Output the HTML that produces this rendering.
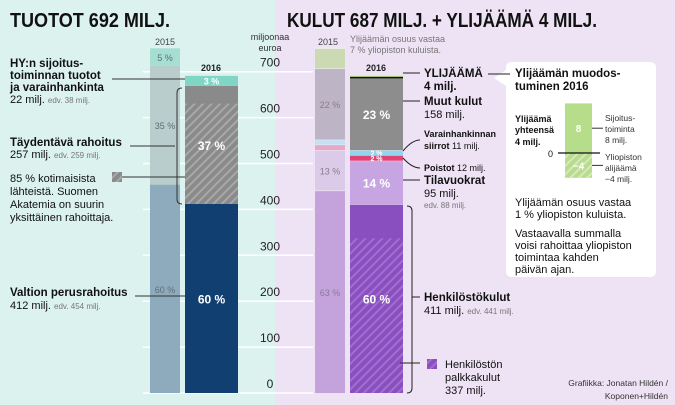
<!DOCTYPE html>
<html><head><meta charset="utf-8">
<style>
html,body{margin:0;padding:0;width:675px;height:405px;overflow:hidden;background:#ede3f4}
svg{display:block;font-family:"Liberation Sans",sans-serif}
.b{font-weight:bold}
</style></head>
<body>
<svg id="chart" width="675" height="405" viewBox="0 0 675 405" xmlns="http://www.w3.org/2000/svg">
<defs>
<pattern id="hatchGray" patternUnits="userSpaceOnUse" width="6" height="6" patternTransform="rotate(45)">
<rect width="6" height="6" fill="#8a8a8a"/><rect width="2" height="6" fill="#a8a8a8"/></pattern>
<pattern id="hatchPurple" patternUnits="userSpaceOnUse" width="6" height="6" patternTransform="rotate(45)">
<rect width="6" height="6" fill="#8a4fbf"/><rect width="2" height="6" fill="#a06fd0"/></pattern>
<pattern id="hatchGreen" patternUnits="userSpaceOnUse" width="6" height="6" patternTransform="rotate(45)">
<rect width="6" height="6" fill="#b8db8e"/><rect width="2" height="6" fill="#d4eab8"/></pattern>
</defs>
<rect x="0" y="0" width="275" height="405" fill="#dcf2ef"/>
<rect x="275" y="0" width="400" height="405" fill="#ede3f4"/>
<g id="grid"></g>
<g id="bars"></g>
<text x="10" y="27" font-size="20" class="b" textLength="160" lengthAdjust="spacingAndGlyphs" fill="#111">TUOTOT 692 MILJ.</text>
<text x="287" y="27" font-size="20" class="b" textLength="310" lengthAdjust="spacingAndGlyphs" fill="#111">KULUT  687 MILJ. + YLIJÄÄMÄ 4 MILJ.</text>
<text x="270" y="40" font-size="9" text-anchor="middle" fill="#333">miljoonaa</text>
<text x="270" y="51" font-size="9" text-anchor="middle" fill="#333">euroa</text>
<text x="165" y="45" font-size="9" text-anchor="middle" fill="#444">2015</text>
<text x="211" y="71" font-size="9" class="b" text-anchor="middle" fill="#222">2016</text>
<text x="328" y="45" font-size="9" text-anchor="middle" fill="#444">2015</text>
<text x="376" y="71" font-size="9" class="b" text-anchor="middle" fill="#222">2016</text>
<text font-size="9" fill="#777"><tspan x="350" y="42">Ylijäämän osuus vastaa</tspan><tspan x="350" y="53">7 % yliopiston kuluista.</tspan></text>

<g fill="#111" font-size="11">
<text class="b" font-size="11.5"><tspan x="10" y="67">HY:n sijoitus-</tspan><tspan x="10" y="79">toiminnan tuotot</tspan><tspan x="10" y="91">ja varainhankinta</tspan></text>
<text x="10" y="103">22 milj. <tspan font-size="8" fill="#777">edv. 38 milj.</tspan></text>
<line x1="112" y1="79" x2="185" y2="79" stroke="#333"/>
<text class="b" x="10" y="146" font-size="11.5">Täydentävä rahoitus</text>
<text x="10" y="158">257 milj. <tspan font-size="8" fill="#777">edv. 259 milj.</tspan></text>
<line x1="130" y1="146" x2="175" y2="146" stroke="#333"/>
<path d="M182 88 Q177 88 177 93 L177 199 Q177 204 182 204" fill="none" stroke="#333"/>
<text><tspan x="10" y="182">85 % kotimaisista</tspan><tspan x="10" y="195">lähteistä. Suomen</tspan><tspan x="10" y="208">Akatemia on suurin</tspan><tspan x="10" y="221">yksittäinen rahoittaja.</tspan></text>
<rect x="112" y="172" width="10" height="10" fill="url(#hatchGray)"/>
<line x1="122" y1="177" x2="185" y2="177" stroke="#333"/>
<text class="b" x="10" y="296" font-size="11.5">Valtion perusrahoitus</text>
<text x="10" y="309">412 milj. <tspan font-size="8" fill="#777">edv. 454 milj.</tspan></text>
<line x1="135" y1="296" x2="185" y2="296" stroke="#333"/>
</g>

<g fill="#111" font-size="11">
<line x1="403" y1="73" x2="420" y2="73" stroke="#222"/>
<text class="b" font-size="11.5"><tspan x="424" y="77">YLIJÄÄMÄ</tspan><tspan x="424" y="90">4 milj.</tspan></text>
<line x1="403" y1="101" x2="420" y2="101" stroke="#222"/>
<text class="b" x="424" y="105" font-size="11.5">Muut kulut</text>
<text x="424" y="118">158 milj.</text>
<text class="b" x="424" y="137" font-size="9">Varainhankinnan</text>
<text x="424" y="149" font-size="9"><tspan class="b">siirrot</tspan> 11 milj.</text>
<path d="M403 151 Q412 140 420 140" fill="none" stroke="#222"/>
<path d="M403 158 Q412 168 420 168" fill="none" stroke="#222"/>
<text x="424" y="171" font-size="9"><tspan class="b">Poistot</tspan> 12 milj.</text>
<line x1="403" y1="180" x2="420" y2="180" stroke="#222"/>
<text class="b" x="424" y="184" font-size="11.5">Tilavuokrat</text>
<text x="424" y="197">95 milj.</text>
<text x="424" y="208" font-size="8" fill="#777">edv. 88 milj.</text>
<path d="M407 206 Q412 206 412 211 L412 388 Q412 393 407 393" fill="none" stroke="#222"/>
<line x1="412" y1="297" x2="420" y2="297" stroke="#222"/>
<text class="b" x="424" y="301" font-size="11.5">Henkilöstökulut</text>
<text x="424" y="314">411 milj. <tspan font-size="8" fill="#777">edv. 441 milj.</tspan></text>
<line x1="400" y1="363" x2="420" y2="363" stroke="#222"/>
<rect x="427" y="359" width="10" height="10" fill="url(#hatchPurple)"/>
<text><tspan x="445" y="368">Henkilöstön</tspan><tspan x="445" y="381">palkkakulut</tspan><tspan x="445" y="394">337 milj.</tspan></text>
<text font-size="8.5" fill="#333" text-anchor="end"><tspan x="668" y="386">Grafiikka: Jonatan Hildén /</tspan><tspan x="668" y="399">Koponen+Hildén</tspan></text>
</g>

<g>
<path d="M512 62 H650 Q656 62 656 68 V271 Q656 277 650 277 H512 Q506 277 506 271 V86 L494 78 L506 70 V68 Q506 62 512 62 Z" fill="#fff"/>
<line x1="488" y1="74" x2="510" y2="74" stroke="#222"/>
<text class="b" font-size="11.5" fill="#111"><tspan x="515" y="77">Ylijäämän muodos-</tspan><tspan x="515" y="90">tuminen 2016</tspan></text>
<text class="b" font-size="9" fill="#111"><tspan x="515" y="122">Ylijäämä</tspan><tspan x="515" y="133">yhteensä</tspan><tspan x="515" y="145">4 milj.</tspan></text>
<g id="mini"></g>
<text font-size="8.5" fill="#333"><tspan x="605" y="121">Sijoitus-</tspan><tspan x="605" y="132">toiminta</tspan><tspan x="605" y="143">8 milj.</tspan><tspan x="605" y="160">Yliopiston</tspan><tspan x="605" y="171">alijäämä</tspan><tspan x="605" y="182">−4 milj.</tspan></text>
<text font-size="11" fill="#111"><tspan x="515" y="206">Ylijäämän osuus vastaa</tspan><tspan x="515" y="218">1 % yliopiston kuluista.</tspan><tspan x="515" y="237">Vastaavalla summalla</tspan><tspan x="515" y="249">voisi rahoittaa yliopiston</tspan><tspan x="515" y="261">toimintaa kahden</tspan><tspan x="515" y="273">päivän ajan.</tspan></text>
</g>
</svg>
<script>
// ---- data ----
const ticks = [0,100,200,300,400,500,600,700];
const incomeNames = ["valtion-perusrahoitus","taydentava-rahoitus","sijoitustoiminta"];
const income2015 = [454,259,38];
const income2016 = [412,257,22];
const income2015Pct = ["60 %","35 %","5 %"];
const income2016Pct = ["60 %","37 %","3 %"];
const supplementaryDomesticShare = 0.85;
const costNames = ["henkilostokulut","tilavuokrat","poistot","varainhankinnan-siirrot","muut-kulut","ylijaama"];
const cost2015 = [441,88,12,11,155,44];
const cost2016 = [411,95,12,11,158,4];
const cost2015Pct = ["63 %","13 %","","","22 %",""];
const cost2016Pct = ["60 %","14 %","2 %","2 %","23 %",""];
const salaryCosts2016 = 337;
const miniValues = [8,-4];
const miniLabels = ["8","−4"];

const NS="http://www.w3.org/2000/svg";
const y0=393, k=0.459;
const y=v=>y0-v*k;
function mk(tag,attrs,parent){const e=document.createElementNS(NS,tag);for(const a in attrs)e.setAttribute(a,attrs[a]);parent.appendChild(e);return e;}

const grid=document.getElementById('grid');
ticks.forEach(t=>{
  const l=mk('line',{x1:143,x2:313,y1:y(t),y2:y(t),stroke:'#fff','stroke-width':1.5},grid);
  
  
  const tx=mk('text',{x:270,y:y(t)-5,'font-size':12,'text-anchor':'middle',fill:'#222'},grid);
  tx.textContent=t;
  
  
});
// light lavender strip of axis zone
const bars=document.getElementById('bars');

const inc15Col=["#8eabbd","#b9cdcc","#a6ded1"];
const inc16Col=["#123f72","#8a8a8a","#7fd6c5"];
const cost15Col=["#c4a3dc","#dccbe8","#e6a8c9","#c5e0f1","#bdb5c5","#ccdab4"];
const cost16Col=["#8a4fbf","#c7a5e3","#e04477","#93d5ef","#8d8d8d","#b6dd8a"];

function stack(vals,cols,pcts,names,x,w,prefix,pctCol,pctSize,pctBold,gap){
  let acc=0;
  vals.forEach((v,i)=>{
    const top=y(acc+v), bot=y(acc);
    const r=mk('rect',{x:x,y:top,width:w,height:Math.max(0.5,bot-top-(gap&&i<vals.length-1?0:0)),fill:cols[i]},bars);
    
    
    if(pcts[i]){
      const t=mk('text',{x:x+w/2,y:(top+bot)/2+4,'font-size':pctSize,'text-anchor':'middle',fill:pctCol,'font-weight':pctBold?'bold':'normal'},bars);
      t.textContent=pcts[i];
      
      
    }
    acc+=v;
    if(gap){mk('line',{x1:x,x2:x+w,y1:y(acc),y2:y(acc),stroke:'#f4eef8','stroke-width':1},bars);}
  });
  return acc;
}
stack(income2015,inc15Col,income2015Pct,incomeNames,150,30,'income-2015','#5d6e78',9,false,false);
// 2016 income with hatch
(function(){
  let acc=0;
  income2016.forEach((v,i)=>{
    const top=y(acc+v),bot=y(acc);
    const r=mk('rect',{x:185,y:top,width:53,height:bot-top,fill:inc16Col[i]},bars);
    
    
    if(i===1){
      const hv=v*supplementaryDomesticShare;
      const h=mk('rect',{x:185,y:y(acc+hv),width:53,height:bot-y(acc+hv),fill:'url(#hatchGray)'},bars);
      
      
    }
    const t=mk('text',{x:211.5,y:(top+bot)/2+(i===2?3.5:5),'font-size':i===2?9:12,'text-anchor':'middle',fill:'#fff','font-weight':'bold'},bars);
    t.textContent=income2016Pct[i];
    
    
    acc+=v;
  });
})();
stack(cost2015,cost15Col,cost2015Pct,costNames,315,30,'cost-2015','#8a7a95',9,false,true);
(function(){
  let acc=0;
  cost2016.forEach((v,i)=>{
    const top=y(acc+v),bot=y(acc);
    const r=mk('rect',{x:350,y:top,width:53,height:bot-top,fill:cost16Col[i]},bars);
    
    
    if(i===0){
      const h=mk('rect',{x:350,y:y(salaryCosts2016),width:53,height:y(0)-y(salaryCosts2016),fill:'url(#hatchPurple)'},bars);
      
      
    }
    if(cost2016Pct[i]){
      const small=v<20;
      const t=mk('text',{x:376.5,y:(top+bot)/2+(small?3:5),'font-size':small?7:12,'text-anchor':'middle',fill:'#fff','font-weight':'bold'},bars);
      t.textContent=cost2016Pct[i];
      
      
    }
    acc+=v;
    if(i<cost2016.length-1) mk('line',{x1:350,x2:403,y1:y(acc),y2:y(acc),stroke:'#f4eef8','stroke-width':0.8},bars);
  });
  const l=mk('line',{x1:350,x2:403,y1:y(acc-cost2016[cost2016.length-1]),y2:y(acc-cost2016[cost2016.length-1]),stroke:'#111','stroke-width':1.5},bars);
  
  
})();
// mini chart
const mini=document.getElementById('mini');
const mz=153, mk2=6.2;
miniValues.forEach((v,i)=>{
  const top=v>=0?mz-v*mk2:mz, h=Math.abs(v)*mk2;
  const r=mk('rect',{x:565,y:top,width:27,height:h,fill:v>=0?'#b6dd8a':'url(#hatchGreen)'},mini);
  
  
  const t=mk('text',{x:578.5,y:top+h/2+4,'font-size':10,'text-anchor':'middle',fill:'#fff','font-weight':'bold'},mini);
  t.textContent=miniLabels[i];
  
  
  const c=mk('line',{x1:592,x2:603,y1:top+h/2,y2:top+h/2,stroke:'#333'},mini);
});
const zl=mk('line',{x1:558,x2:600,y1:mz,y2:mz,stroke:'#111','stroke-width':1.2},mini);


const z0=mk('text',{x:553,y:mz+4,'font-size':9,'text-anchor':'end',fill:'#111'},mini);
z0.textContent='0';


</script>
</body></html>
